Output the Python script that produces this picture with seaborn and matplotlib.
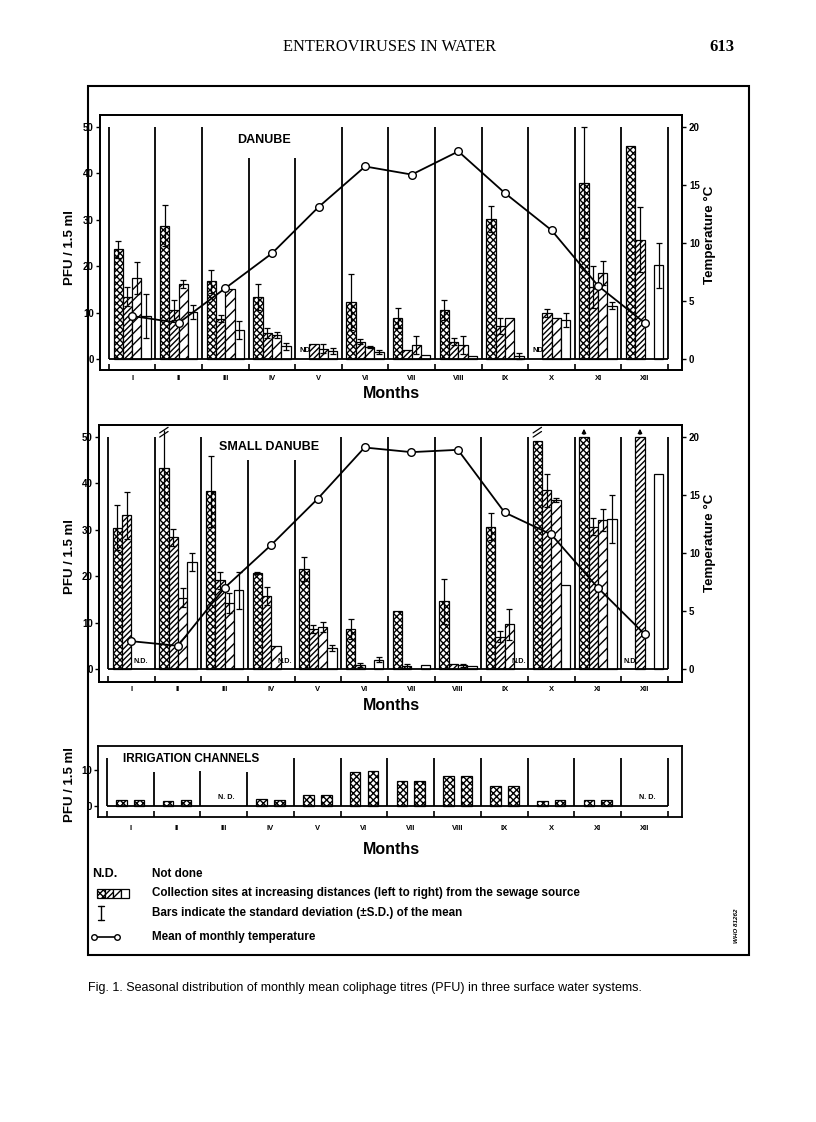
import numpy as np
import pandas as pd
import matplotlib
matplotlib.use("Agg")
import matplotlib.pyplot as plt
import seaborn as sns
from matplotlib.patches import Rectangle
from matplotlib.lines import Line2D

nan = np.nan

# ------------------------------------------------------------------ data
months = ["I", "II", "III", "IV", "V", "VI", "VII", "VIII", "IX", "X", "XI", "XII"]
sites = ["Site 1", "Site 2", "Site 3", "Site 4"]

# DANUBE  (PFU / 1.5 ml, mean and S.D.)
danube_site1 = [23.6, 28.7, 16.7, 13.4, nan, 12.2, 8.8, 10.5, 30.1, nan, 38.0, 46.0]
danube_site2 = [13.4, 10.5, 8.7, 5.6, 3.2, 3.7, 2.0, 3.7, 7.1, 9.9, 15.5, 25.7]
danube_site3 = [17.5, 16.2, 15.1, 5.1, 2.2, 2.5, 3.0, 3.0, 8.9, 8.9, 18.5, nan]
danube_site4 = [9.3, 10.1, 6.2, 2.7, 1.7, 1.5, 0.9, 0.6, 0.6, 8.4, 11.5, 20.2]
danube_sd1 = [1.9, 4.4, 2.5, 2.8, nan, 6.0, 2.1, 2.2, 2.8, nan, 12.0, 0]
danube_sd2 = [2.0, 2.1, 0.8, 1.1, 0, 0.5, 0, 0.7, 1.8, 0.8, 4.6, 7.0]
danube_sd3 = [3.4, 0.9, 0, 0.6, 1.0, 0.2, 1.9, 1.9, 0, 0, 2.6, nan]
danube_sd4 = [4.7, 1.5, 2.0, 0.7, 0.7, 0.4, 0, 0, 0.7, 1.6, 0.8, 4.9]
danube_temp = [3.7, 3.1, 6.1, 9.1, 13.1, 16.6, 15.9, 17.9, 14.3, 11.1, 6.3, 3.1]
danube_nd = [("V", 1, 1), ("X", 1, 1)]          # (month, first site, last site)

# SMALL DANUBE
small_site1 = [30.5, 43.3, 38.3, 20.7, 21.5, 8.6, 12.5, 14.6, 30.7, 49.1, 50.0, nan]
small_site2 = [33.1, 28.4, 19.1, 15.7, 8.6, 0.9, 0.7, 1.1, 7.0, 38.5, 30.7, 50.0]
small_site3 = [nan, 15.4, 14.2, 5.0, 9.0, nan, nan, 0.8, 9.6, 36.5, 32.1, nan]
small_site4 = [nan, 23.1, 17.0, nan, 4.5, 2.0, 0.9, 0.6, nan, 18.2, 32.4, 42.0]
small_sd1 = [4.9, 8.2, 7.7, 0.3, 2.6, 2.2, 0, 4.9, 2.9, 0, 0, nan]
small_sd2 = [5.0, 1.8, 1.9, 1.9, 0.9, 0.4, 0.4, 0, 1.2, 3.6, 1.9, 0]
small_sd3 = [nan, 2.0, 2.2, 0, 1.1, nan, nan, 0.3, 3.3, 0.4, 2.3, nan]
small_sd4 = [nan, 2.0, 4.0, nan, 0.6, 0.5, 0, 0, nan, 0, 5.2, 0]
small_temp = [2.4, 2.0, 7.0, 10.7, 14.7, 19.1, 18.7, 18.9, 13.5, 11.6, 7.0, 3.0]
small_nd = [("I", 3, 4), ("IV", 4, 4), ("IX", 4, 4), ("XII", 1, 1)]
small_over = [("XI", 1), ("XII", 2)]     # values beyond the scale (arrow)
small_break = [("II", 1), ("X", 1)]      # broken bars / S.D.

# IRRIGATION CHANNELS
irr_site1 = [1.5, 1.4, nan, 1.8, 3.0, 9.5, 6.8, 8.4, 5.5, 1.4, 1.6, nan]
irr_site2 = [1.5, 1.6, nan, 1.6, 3.0, 9.6, 6.8, 8.3, 5.5, 1.6, 1.6, nan]
irr_nd = ["III", "XII"]

danube_yticks = [0, 10, 20, 30, 40, 50]
temp_yticks = [0, 5, 10, 15, 20]
irr_yticks = [0, 10]

# ------------------------------------------------------------------ style
sns.set_theme(style="white")
plt.rcParams["font.family"] = ["Liberation Sans", "DejaVu Sans"]
plt.rcParams["text.color"] = "black"
plt.rcParams["axes.edgecolor"] = "black"
plt.rcParams["xtick.color"] = "black"
plt.rcParams["ytick.color"] = "black"
plt.rcParams["hatch.linewidth"] = 1.0
plt.rcParams["hatch.color"] = "black"

W, H = 816, 1122
fig = plt.figure(figsize=(W / 100, H / 100), dpi=100)
fig.patch.set_facecolor("white")


def rect(l, t, r, b):
    return [l / W, 1 - b / H, (r - l) / W, (b - t) / H]


def fx(x):
    return x / W


def fy(y):
    return 1 - y / H


HATCH4 = ["xxxxx", "//////", "///", ""]
SEP_TALL = [50, 50, 50, 43.4, 43.4, 50, 50, 50, 50, 50, 50, 50, 50]
SEP_SMALL = [50, 50, 50, 45, 45, 50, 50, 50, 50, 50, 50, 50, 50]
SEP_IRR = [13.2, 9.5, 9.7, 9.5, 13.2, 13.3, 13.3, 13.3, 13.3, 13.3, 13.3, 13.3, 13.3]
XLIM = (-0.69, 11.8)


def long_df(vals, sds, site_names):
    rows = []
    for s, (v, e) in enumerate(zip(vals, sds)):
        for m in range(12):
            rows.append(dict(month=months[m], site=site_names[s], pfu=v[m], sd=e[m]))
    return pd.DataFrame(rows)


def style_axes(ax, ylim, yticks, seps, label_pad):
    ax.set_xlim(*XLIM)
    ax.set_ylim(*ylim)
    ax.set_xticks(range(12))
    ax.set_xticklabels(months, fontsize=5.5, fontweight="bold")
    ax.tick_params(axis="x", which="major", length=0, pad=label_pad)
    ax.set_xticks(np.arange(13) - 0.5, minor=True)
    ax.tick_params(axis="x", which="minor", direction="in", length=4, width=1.2, bottom=True)
    ax.set_yticks(yticks)
    ax.set_yticklabels([str(t) for t in yticks], fontsize=7, fontweight="bold")
    ax.tick_params(axis="y", direction="out", length=3, width=1, pad=1.5, left=True)
    ax.set_xlabel("")
    ax.set_ylabel("")
    for sp in ax.spines.values():
        sp.set_linewidth(1.3)
        sp.set_color("black")
    ax.vlines(np.arange(13) - 0.5, 0, seps, color="black", lw=1.3, zorder=1)
    ax.hlines(0, -0.5, 11.5, color="black", lw=1.3, zorder=4)
    ax.grid(False)


def bar_panel(ax, vals, sds, site_names, hatches, width, gap):
    df = long_df(vals, sds, site_names).dropna(subset=["pfu"])
    sns.barplot(data=df, x="month", y="pfu", hue="site", order=months,
                hue_order=site_names, palette=["white"] * len(site_names),
                errorbar=None, edgecolor="black", linewidth=0.9, width=width,
                gap=gap, dodge=True, legend=False, saturation=1, ax=ax)
    pos = {}
    for s, cont in enumerate(ax.containers):
        for bar in cont:
            bar.set_hatch(hatches[s])
            xc = bar.get_x() + bar.get_width() / 2
            pos[(int(round(xc)), s)] = xc
    return df, pos


def slot_x(m, s, n, width):
    return m + (s - (n - 1) / 2) * width / n


def draw_errors(ax, df, pos, site_names, nocap=()):
    for _, r in df.iterrows():
        if not (r["sd"] > 0):
            continue
        m = months.index(r["month"])
        s = site_names.index(r["site"])
        cap = 0 if (r["month"], s + 1) in nocap else 2.5
        ax.errorbar([pos[(m, s)]], [r["pfu"]], yerr=[r["sd"]], fmt="none",
                    ecolor="black", elinewidth=0.9, capsize=cap, capthick=0.9, zorder=5)


def draw_temp(ax, temp, ylim):
    axt = ax.twinx()
    sns.lineplot(x=np.arange(12), y=temp, ax=axt, color="black", linewidth=1.3,
                 marker="o", markersize=5.5, markerfacecolor="white",
                 markeredgecolor="black", markeredgewidth=1.0)
    axt.set_ylim(ylim[0] * 0.4, ylim[1] * 0.4)
    axt.set_yticks(temp_yticks)
    axt.set_yticklabels([str(t) for t in temp_yticks], fontsize=7, fontweight="bold")
    axt.tick_params(axis="y", direction="out", length=3, width=1, pad=2, right=True)
    axt.set_xlim(*XLIM)
    axt.set_ylabel("")
    axt.grid(False)
    for sp in axt.spines.values():
        sp.set_linewidth(1.3)
    return axt


def draw_nd(ax, nd, n, width, y, text, fs):
    for m, s0, s1 in nd:
        mi = months.index(m)
        x = (slot_x(mi, s0 - 1, n, width) + slot_x(mi, s1 - 1, n, width)) / 2
        ax.text(x, y, text, ha="center", va="center", fontsize=fs, fontweight="bold", zorder=6)


# ------------------------------------------------------------------ DANUBE
ax1 = fig.add_axes(rect(100, 115, 682, 370))
ylim1 = (-2.4, 52.6)
d_vals = [danube_site1, danube_site2, danube_site3, danube_site4]
d_sds = [danube_sd1, danube_sd2, danube_sd3, danube_sd4]
df1, pos1 = bar_panel(ax1, d_vals, d_sds, sites, HATCH4, 0.8, 0)
style_axes(ax1, ylim1, danube_yticks, SEP_TALL, 3.8)
draw_errors(ax1, df1, pos1, sites)
draw_nd(ax1, danube_nd, 4, 0.8, 1.9, "ND", 5.5)
ax1.text(2.82, 47.2, "DANUBE", ha="center", va="center", fontsize=9, fontweight="bold")
draw_temp(ax1, danube_temp, ylim1)

# ------------------------------------------------------------------ SMALL DANUBE
ax2 = fig.add_axes(rect(99, 425, 682, 682))
ylim2 = (-2.8, 52.6)
s_vals = [small_site1, small_site2, small_site3, small_site4]
s_sds = [small_sd1, small_sd2, small_sd3, small_sd4]
df2, pos2 = bar_panel(ax2, s_vals, s_sds, sites, HATCH4, 0.8, 0)
style_axes(ax2, ylim2, danube_yticks, SEP_SMALL, 3.0)
draw_errors(ax2, df2, pos2, sites, nocap=small_break)
draw_nd(ax2, small_nd, 4, 0.8, 1.6, "N.D.", 5.2)
ax2.text(2.95, 47.8, "SMALL DANUBE", ha="center", va="center", fontsize=9, fontweight="bold")
for m, s in small_over:
    x = pos2[(months.index(m), s - 1)]
    ax2.annotate("", xy=(x, 52.4), xytext=(x, 50.0),
                 arrowprops=dict(arrowstyle="-|>", color="black", lw=1.0, mutation_scale=6))
for m, s in small_break:
    x = pos2[(months.index(m), s - 1)]
    for dy in (0.0, 0.9):
        ax2.plot([x - 0.09, x + 0.09], [50.0 + dy, 51.2 + dy], color="black", lw=0.9, zorder=7)
draw_temp(ax2, small_temp, ylim2)

# ------------------------------------------------------------------ IRRIGATION
ax3 = fig.add_axes(rect(98, 746, 682, 817))
ylim3 = (-3.2, 16.7)
df3, pos3 = bar_panel(ax3, [irr_site1, irr_site2], [[0] * 12, [0] * 12], sites[:2],
                      ["xxxxx", "xxxxx"], 0.76, 0.4)
style_axes(ax3, ylim3, irr_yticks, SEP_IRR, 6.0)
for m in irr_nd:
    ax3.text(months.index(m) + 0.05, 2.3, "N. D.", ha="center", va="center",
             fontsize=5.2, fontweight="bold")
ax3.text(-0.16, 13.1, "IRRIGATION CHANNELS", ha="left", va="center",
         fontsize=8.5, fontweight="bold")
ax3.spines["right"].set_linewidth(1.3)

# ------------------------------------------------------------------ labels
for y in (247, 557, 784):
    fig.text(fx(70), fy(y), "PFU / 1.5 ml", rotation=90, ha="center", va="center",
             fontsize=9.5, fontweight="bold")
for y in (235, 543):
    fig.text(fx(710), fy(y), "Temperature °C", rotation=90, ha="center", va="center",
             fontsize=9.6, fontweight="bold")
for y in (394, 706, 850):
    fig.text(fx(391), fy(y), "Months", ha="center", va="center", fontsize=11.5,
             fontweight="bold")

# ------------------------------------------------------------------ legend
fig.text(fx(92), fy(874), "N.D.", ha="left", va="center", fontsize=9, fontweight="bold")
leg_text = ["Not done",
            "Collection sites at increasing distances (left to right) from the sewage source",
            "Bars indicate the standard deviation (±S.D.) of the mean",
            "Mean of monthly temperature"]
for t, y in zip(leg_text, (874, 893, 913, 937)):
    fig.text(fx(152), fy(y), t, ha="left", va="center", fontsize=8.4, fontweight="bold")
for i, h in enumerate(HATCH4):
    fig.add_artist(Rectangle((fx(97 + 8 * i), fy(898)), 8 / W, 9 / H, transform=fig.transFigure,
                             facecolor="white", edgecolor="black", hatch=h, lw=0.9))
fig.add_artist(Line2D([fx(101), fx(101)], [fy(920), fy(906)], transform=fig.transFigure,
                      color="black", lw=1.0))
for y in (906, 920):
    fig.add_artist(Line2D([fx(98), fx(104)], [fy(y), fy(y)], transform=fig.transFigure,
                          color="black", lw=1.0))
fig.add_artist(Line2D([fx(94), fx(117)], [fy(937), fy(937)], transform=fig.transFigure,
                      color="black", lw=1.2, marker="o", markersize=4,
                      markerfacecolor="white", markeredgecolor="black"))
fig.text(fx(737), fy(926), "WHO 81262", rotation=90, ha="center", va="center",
         fontsize=4.5, fontweight="bold", fontstyle="italic")

# outer frame
fig.add_artist(Rectangle((fx(88), fy(955)), (749 - 88) / W, (955 - 86) / H,
                         transform=fig.transFigure, fill=False, lw=1.5, edgecolor="black"))

# page header and caption
fig.text(fx(390), fy(47), "ENTEROVIRUSES IN WATER", ha="center", va="center",
         fontsize=11.8, family="Liberation Serif")
fig.text(fx(722), fy(47), "613", ha="center", va="center", fontsize=12,
         family="Liberation Serif", fontweight="bold")
fig.text(fx(88), fy(988),
         "Fig. 1. Seasonal distribution of monthly mean coliphage titres (PFU) in three surface water systems.",
         ha="left", va="center", fontsize=9.0)

fig.savefig("out.png", dpi=100, facecolor="white")
